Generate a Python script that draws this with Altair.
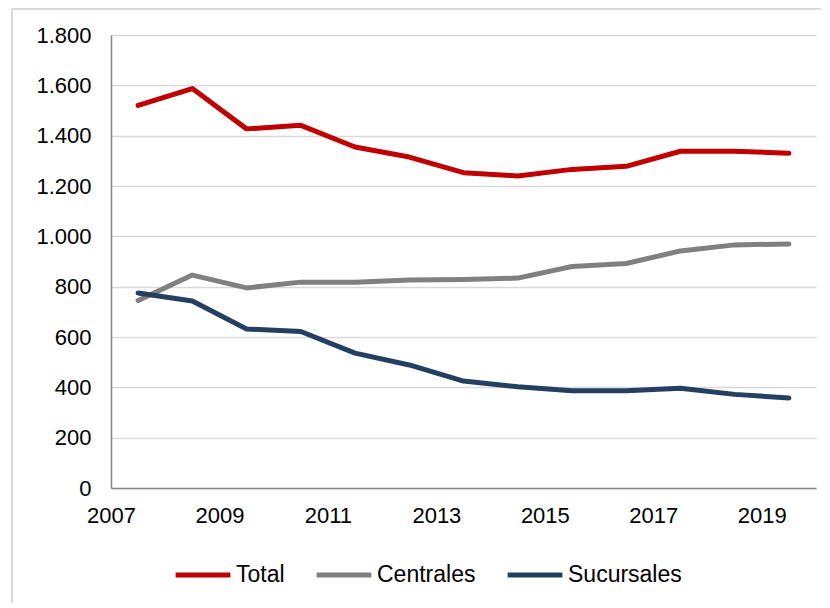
import altair as alt
import pandas as pd

years = list(range(2007, 2020))
total = [1520, 1587, 1427, 1441, 1355, 1315, 1253, 1240, 1266, 1278, 1338, 1338, 1330]
centrales = [745, 846, 795, 818, 818, 826, 828, 834, 880, 892, 942, 966, 970]
sucursales = [775, 743, 632, 622, 536, 489, 425, 402, 386, 386, 396, 372, 358]
series_names = ["Total", "Centrales", "Sucursales"]
series_colors = ["#C00000", "#808080", "#243F60"]
x_ticks = [2007, 2009, 2011, 2013, 2015, 2017, 2019]
y_ticks = [0, 200, 400, 600, 800, 1000, 1200, 1400, 1600, 1800]

rows = []
for name, vals in zip(series_names, [total, centrales, sucursales]):
    for yr, v in zip(years, vals):
        rows.append({"serie": name, "anio": yr + 0.5, "valor": v})
df = pd.DataFrame(rows)

W, H = 705, 453
FONT = "Liberation Sans"

lines = alt.Chart(df).mark_line(strokeWidth=5, strokeCap="round", strokeJoin="round").encode(
    x=alt.X("anio:Q",
            scale=alt.Scale(domain=[2007, 2020], nice=False, zero=False),
            axis=alt.Axis(values=x_ticks, format="d", title=None, grid=False, ticks=False,
                          domainColor="#868686", domainWidth=1.5, labelFontSize=22,
                          labelColor="#000000", labelPadding=17, labelFont=FONT,
                          labelFlush=False)),
    y=alt.Y("valor:Q",
            scale=alt.Scale(domain=[0, 1800], nice=False),
            axis=alt.Axis(values=y_ticks, title=None, grid=True, gridColor="#D9D9D9",
                          gridWidth=1.5, ticks=False, domainColor="#868686", domainWidth=1.5,
                          labelFontSize=22, labelColor="#000000", labelPadding=20,
                          labelFont=FONT,
                          labelExpr="replace(format(datum.value, ',d'), ',', '.')")),
    color=alt.Color("serie:N",
                    scale=alt.Scale(domain=series_names, range=series_colors),
                    legend=alt.Legend(title=None, orient="none", direction="horizontal",
                                      legendX=62, legendY=510,
                                      symbolType="stroke", symbolSize=3000,
                                      symbolStrokeWidth=5, labelFontSize=23,
                                      labelFont=FONT, labelColor="#000000",
                                      labelOffset=3, columnPadding=21)),
)

border = alt.Chart(pd.DataFrame({"k": [0]})).mark_rule(color="#D9D9D9", strokeWidth=2, clip=False).encode(
    x=alt.value(-99), x2=alt.value(730), y=alt.value(-26), y2=alt.value(-26)
)
border_left = alt.Chart(pd.DataFrame({"k": [0]})).mark_rule(color="#D9D9D9", strokeWidth=2, clip=False).encode(
    x=alt.value(-99), x2=alt.value(-99), y=alt.value(-26), y2=alt.value(580)
)

chart = alt.layer(border, border_left, lines).properties(
    width=W, height=H,
    autosize=alt.AutoSizeParams(type="none"),
    padding={"left": 103, "top": 27, "right": 5, "bottom": 115},
    background="#FFFFFF",
).configure_view(stroke=None)

chart.save("out.html", embed_options={"renderer": "svg", "actions": False})
